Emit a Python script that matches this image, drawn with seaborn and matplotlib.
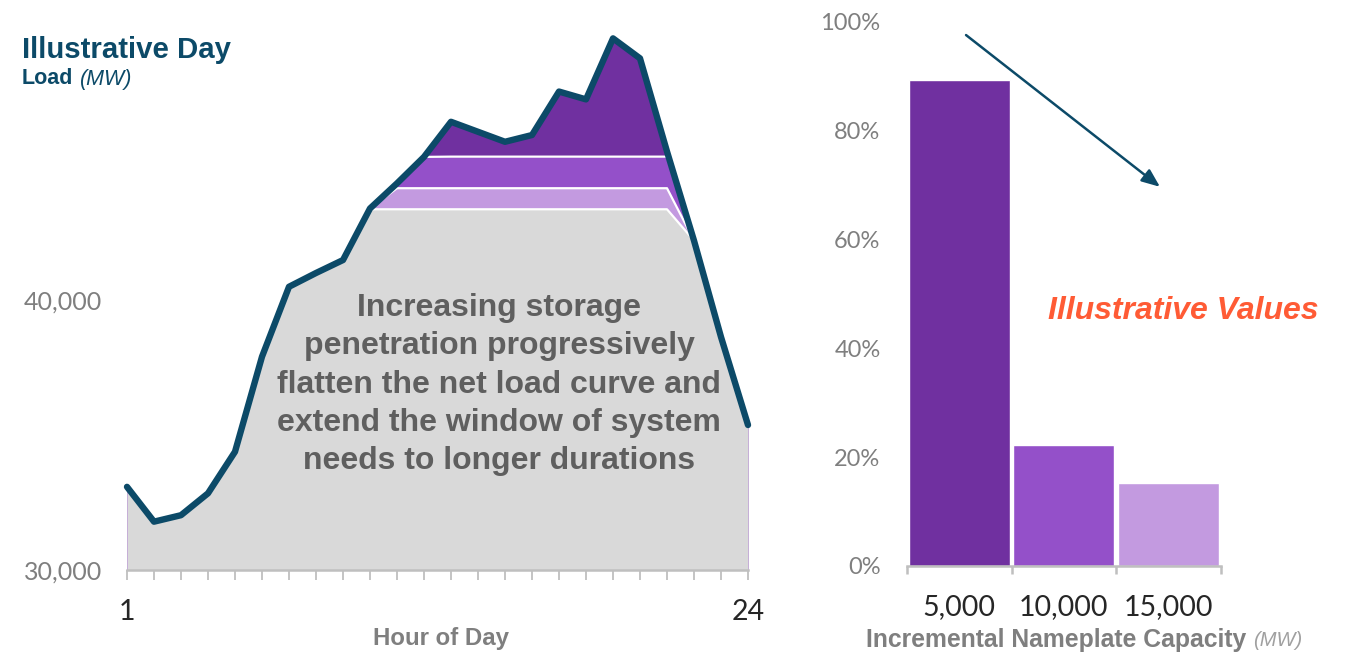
import numpy as np
import pandas as pd
import matplotlib
matplotlib.use("Agg")
import matplotlib.pyplot as plt
import seaborn as sns

# data
hours = list(range(1, 25))
load_mw = [33080, 31790, 32030, 32840, 34380, 37900, 40490, 41000, 41480, 43390,
           44320, 45300, 46600, 46230, 45860, 46110, 47720, 47430, 49690, 48950,
           45500, 42200, 38630, 35370]
storage_caps = [43360, 44140, 45310]          # net load after 15,000 / 10,000 / 5,000 MW
layer_colors = ["#d9d9d9", "#c39ae0", "#9450c9"]
peak_color = "#7030a0"

capacity_labels = ["5,000", "10,000", "15,000"]
capacity_share = [89.3, 22.2, 15.3]
bar_colors = ["#7030a0", "#9450c9", "#c39ae0"]

sns.set_style("white")
plt.rcParams["font.family"] = ["Liberation Sans", "DejaVu Sans"]

navy = "#0c4a68"
grey_lbl = "#7f7f7f"
spine_grey = "#bfbfbf"
tick_font = ["Lato", "DejaVu Sans"]

fig = plt.figure(figsize=(13.45, 6.52), dpi=100)
ax = fig.add_axes([127 / 1345, 1 - 570 / 652, 621 / 1345, 540 / 652])
ax2 = fig.add_axes([907 / 1345, 1 - 566 / 652, 313.5 / 1345, 544 / 652])

# ---- left: illustrative day ----
df = pd.DataFrame({"hour": hours, "load": load_mw})
load = np.array(load_mw)
ax.fill_between(df["hour"], 30000, load, color=peak_color, lw=0)
for cap, col in zip(storage_caps[::-1], layer_colors[::-1]):
    ax.fill_between(df["hour"], 30000, np.minimum(load, cap), color=col, lw=0)
for cap in storage_caps:
    ax.plot(df["hour"], np.minimum(load, cap), color="white", lw=1.6)
sns.lineplot(data=df, x="hour", y="load", color=navy, lw=4.6, ax=ax, clip_on=False)

ax.set_xlim(1, 24)
ax.set_ylim(30000, 50000)
ax.set_xticks(hours)
ax.set_xticklabels(["1"] + [""] * 22 + ["24"])
ax.set_yticks([30000, 40000])
ax.set_yticklabels(["30,000", "40,000"])
for s in ["top", "right", "left"]:
    ax.spines[s].set_visible(False)
ax.spines["bottom"].set_color(spine_grey)
ax.spines["bottom"].set_linewidth(1.8)
ax.tick_params(axis="x", length=7, width=1.3, color=spine_grey, pad=14, direction="out",
               labelsize=20.5, labelcolor="#262626", bottom=True)
ax.tick_params(axis="y", length=0, pad=18, labelsize=18, labelcolor=grey_lbl)
for t in ax.get_xticklabels() + ax.get_yticklabels():
    t.set_fontfamily(tick_font)
ax.set_xlabel("Hour of Day", fontsize=17.3, fontweight="bold", color=grey_lbl, labelpad=0)
ax.xaxis.set_label_coords(0.506, -0.126)
ax.xaxis.label.set_va("center")
ax.set_ylabel("")

ax.text(14.78, 36870,
        "Increasing storage\npenetration progressively\nflatten the net load curve and\n"
        "extend the window of system\nneeds to longer durations",
        ha="center", va="center", fontsize=23, fontweight="bold", color="#5f5f5f",
        linespacing=1.355)

fig.text(22 / 1345, 1 - 50 / 652, "Illustrative Day", fontsize=21.2, fontweight="bold",
         color=navy, ha="left", va="center")
fig.text(22 / 1345, 1 - 79 / 652, "Load", fontsize=15.5, fontweight="bold",
         color=navy, ha="left", va="center")
fig.text(80 / 1345, 1 - 79 / 652, "(MW)", fontsize=15.5, style="italic",
         color=navy, ha="left", va="center")

# ---- right: incremental value ----
bdf = pd.DataFrame({"capacity": capacity_labels, "share": capacity_share})
sns.barplot(data=bdf, x="capacity", y="share", hue="capacity", palette=bar_colors,
            legend=False, width=0.97, saturation=1, ax=ax2)
ax2.set_xlim(-0.5, 2.5)
ax2.set_ylim(0, 100)
ax2.set_yticks([0, 20, 40, 60, 80, 100])
ax2.set_yticklabels(["0%", "20%", "40%", "60%", "80%", "100%"])
ax2.set_xticks([-0.5, 0.5, 1.5, 2.5], minor=True)
for s in ["top", "right", "left"]:
    ax2.spines[s].set_visible(False)
ax2.spines["bottom"].set_color(spine_grey)
ax2.spines["bottom"].set_linewidth(1.8)
ax2.tick_params(axis="x", which="major", length=0, pad=20, labelsize=20.5, labelcolor="#262626")
ax2.tick_params(axis="x", which="minor", length=6, width=1.8, color=spine_grey, bottom=True)
ax2.tick_params(axis="y", length=0, pad=19, labelsize=17, labelcolor=grey_lbl)
for t in ax2.get_xticklabels() + ax2.get_yticklabels():
    t.set_fontfamily(tick_font)
ax2.set_xlabel("")
ax2.set_ylabel("")

ax2.annotate("", xy=(1.921, 69.7), xytext=(0.065, 97.6),
             arrowprops=dict(arrowstyle="-|>,head_length=1.1,head_width=0.45",
                             color=navy, lw=1.8, shrinkA=0, shrinkB=0))
ax2.text(2.14, 46.9, "Illustrative Values", ha="center", va="center", fontsize=23,
         fontweight="bold", style="italic", color="#ff5b35", clip_on=False)

fig.text(866 / 1345, 1 - 640 / 652, "Incremental Nameplate Capacity", fontsize=17.8,
         fontweight="bold", color=grey_lbl, ha="left", va="center")
fig.text(1253 / 1345, 1 - 640 / 652, "(MW)", fontsize=14.5, style="italic",
         color="#a0a0a0", ha="left", va="center")

fig.savefig("out.png", dpi=100)
